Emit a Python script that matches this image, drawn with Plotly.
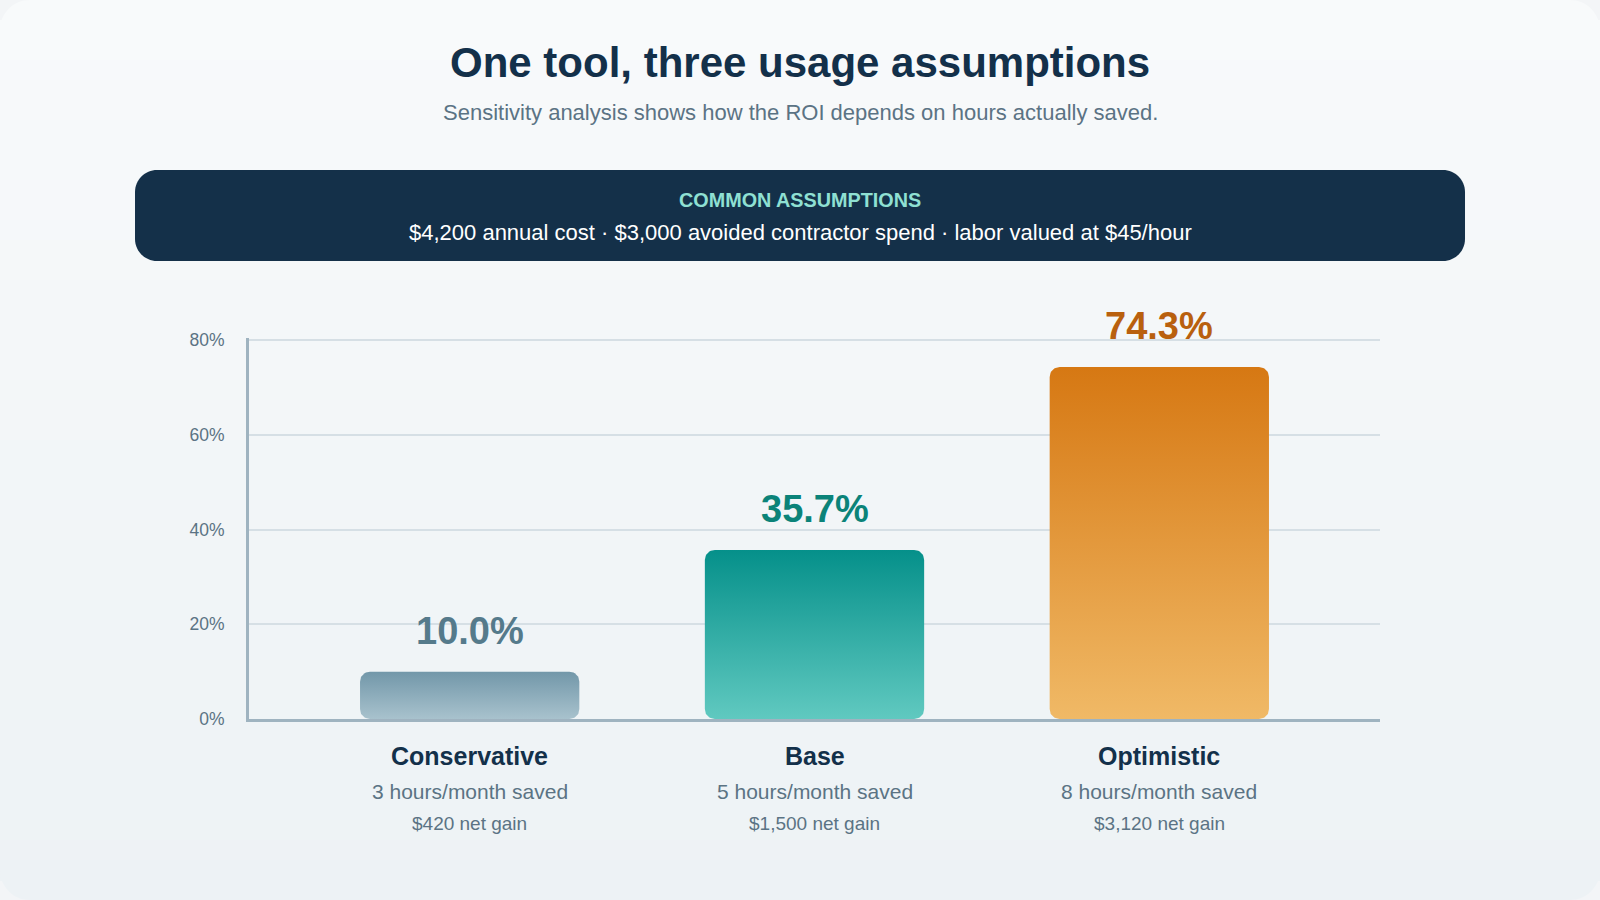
import numpy as np
import plotly.graph_objects as go

# data
scenarios = ['Conservative', 'Base', 'Optimistic']
hours_saved = [3, 5, 8]
net_gain = [420, 1500, 3120]
roi_pct = [10.0, 35.7, 74.3]
y_ticks = [0, 20, 40, 60, 80]

bar_top = ['#7297a9', '#05908a', '#d67813']
bar_bottom = ['#a8c2cd', '#60c9c0', '#f0b966']
label_colors = ['#557a8b', '#0b8379', '#b9600e']

W, H = 1600, 900
NAVY = '#13304a'
MUTED = '#5b7384'
FONT = 'Liberation Sans, Arial, Helvetica, sans-serif'

# plot area in page pixels (80% line sits at y=340)
x_range = [-0.64, 2.64]
y_range = [0, 80.4]
L, R, B = 249, 1380, 719
px_y = (B - 340) / 80
T = B - px_y * y_range[1]
bar_w = 0.636
rad = 10  # bar corner radius, px

px_x = (R - L) / (x_range[1] - x_range[0])


def fx(x):
    return x / W


def fy(y):
    return 1 - y / H


def hexmix(c1, c2, t):
    a = [int(c1[i:i + 2], 16) for i in (1, 3, 5)]
    b = [int(c2[i:i + 2], 16) for i in (1, 3, 5)]
    return '#' + ''.join('%02x' % round(a[k] + (b[k] - a[k]) * t) for k in range(3))


def round_rect(x0, y0, x1, y1, rt, rb):
    # path in paper coords, built from page pixels; rt = top radius, rb = bottom radius
    k = 0.5523

    def p(x, y):
        return '%.5f,%.5f' % (fx(x), fy(y))
    s = 'M ' + p(x0 + rt, y0) + ' L ' + p(x1 - rt, y0)
    s += ' C ' + p(x1 - rt + k * rt, y0) + ' ' + p(x1, y0 + rt - k * rt) + ' ' + p(x1, y0 + rt)
    s += ' L ' + p(x1, y1 - rb)
    s += ' C ' + p(x1, y1 - rb + k * rb) + ' ' + p(x1 - rb + k * rb, y1) + ' ' + p(x1 - rb, y1)
    s += ' L ' + p(x0 + rb, y1)
    s += ' C ' + p(x0 + rb - k * rb, y1) + ' ' + p(x0, y1 - rb + k * rb) + ' ' + p(x0, y1 - rb)
    s += ' L ' + p(x0, y0 + rt)
    s += ' C ' + p(x0, y0 + rt - k * rt) + ' ' + p(x0 + rt - k * rt, y0) + ' ' + p(x0 + rt, y0) + ' Z'
    return s


def rounded_bar(xc, h):
    rx = rad / px_x
    ry = min(rad / px_y, h / 2)
    x0, x1 = xc - bar_w / 2, xc + bar_w / 2
    t = np.linspace(0, np.pi / 2, 12)
    xs, ys = [], []
    corners = [(x0 + rx, ry, np.pi), (x1 - rx, ry, 1.5 * np.pi),
               (x1 - rx, h - ry, 0), (x0 + rx, h - ry, 0.5 * np.pi)]
    for cx, cy, a0 in corners:
        a = a0 + t
        xs += list(cx + rx * np.cos(a))
        ys += list(cy + ry * np.sin(a))
    xs.append(xs[0])
    ys.append(ys[0])
    return xs, ys


fig = go.Figure()

for i, v in enumerate(roi_pct):
    xs, ys = rounded_bar(i, v)
    fig.add_trace(go.Scatter(
        x=xs, y=ys, mode='lines', fill='toself',
        line=dict(width=0, color=bar_top[i]),
        fillgradient=dict(type='vertical',
                          colorscale=[[0, bar_bottom[i]], [1, bar_top[i]]]),
        hoverinfo='skip', showlegend=False,
    ))
    fig.add_annotation(x=i, y=v, text='<b>%.1f%%</b>' % v, showarrow=False,
                       yanchor='bottom', yshift=18,
                       font=dict(size=38, color=label_colors[i], family=FONT))
    fig.add_annotation(x=i, y=fy(756), yref='paper', text='<b>' + scenarios[i] + '</b>',
                       showarrow=False, yanchor='middle',
                       font=dict(size=25, color=NAVY, family=FONT))
    fig.add_annotation(x=i, y=fy(791), yref='paper', text='%d hours/month saved' % hours_saved[i],
                       showarrow=False, yanchor='middle',
                       font=dict(size=21, color=MUTED, family=FONT))
    fig.add_annotation(x=i, y=fy(823), yref='paper', text='${:,} net gain'.format(net_gain[i]),
                       showarrow=False, yanchor='middle',
                       font=dict(size=19, color=MUTED, family=FONT))

# card background, banded to fake the soft vertical gradient
shapes = []
n = 45
for j in range(n):
    y0 = j * H / n
    y1 = (j + 1) * H / n + 1
    rt = 30 if j == 0 else 0
    rb = 30 if j == n - 1 else 0
    shapes.append(dict(type='path', xref='paper', yref='paper', layer='below',
                       path=round_rect(0, y0, W, min(y1, H), rt, rb),
                       fillcolor=hexmix('#f8fafb', '#edf2f5', j / (n - 1)),
                       line=dict(width=0)))
# assumptions banner
shapes.append(dict(type='path', xref='paper', yref='paper', layer='below',
                   path=round_rect(135, 170, 1465, 261, 22, 22),
                   fillcolor='#143049', line=dict(width=0)))

fig.add_annotation(x=0.5, y=fy(62), xref='paper', yref='paper', yanchor='middle',
                   text='<b>One tool, three usage assumptions</b>', showarrow=False,
                   font=dict(size=42, color=NAVY, family=FONT))
fig.add_annotation(x=0.5, y=fy(112), xref='paper', yref='paper', yanchor='middle',
                   text='Sensitivity analysis shows how the ROI depends on hours actually saved.',
                   showarrow=False, font=dict(size=22, color=MUTED, family=FONT))
fig.add_annotation(x=0.5, y=fy(200), xref='paper', yref='paper', yanchor='middle',
                   text='<b>COMMON ASSUMPTIONS</b>', showarrow=False,
                   font=dict(size=19.8, color='#8fe0d3', family=FONT))
fig.add_annotation(x=0.5, y=fy(232), xref='paper', yref='paper', yanchor='middle',
                   text='$4,200 annual cost · $3,000 avoided contractor spend · labor valued at $45/hour',
                   showarrow=False, font=dict(size=22, color='#ffffff', family=FONT))

fig.update_xaxes(range=x_range, domain=[fx(L), fx(R)], showgrid=False, zeroline=False,
                 showticklabels=False, showline=True, linecolor='#9fb3c0', linewidth=3,
                 fixedrange=True, automargin=False)
fig.update_yaxes(range=y_range, domain=[fy(B), fy(T)], tickvals=y_ticks,
                 ticktext=['%d%%' % v for v in y_ticks], ticks='', ticklabelstandoff=18,
                 tickfont=dict(size=17.5, color=MUTED, family=FONT),
                 showgrid=True, gridcolor='#d6dfe5', gridwidth=1.5, zeroline=False,
                 showline=True, linecolor='#9fb3c0', linewidth=3, fixedrange=True,
                 automargin=False)

fig.update_layout(
    width=W, height=H,
    margin=dict(l=0, r=0, t=0, b=0, pad=0, autoexpand=False),
    paper_bgcolor='#f3f5f7', plot_bgcolor='rgba(0,0,0,0)',
    shapes=shapes, showlegend=False,
    font=dict(family=FONT),
)

fig.write_html('out.html', config={'displayModeBar': False},
               post_script="document.documentElement.style.margin='0';"
                           "document.body.style.margin='0';document.body.style.padding='0';"
                           "document.body.style.overflow='hidden';"
                           "document.body.style.background='#f3f5f7';")
